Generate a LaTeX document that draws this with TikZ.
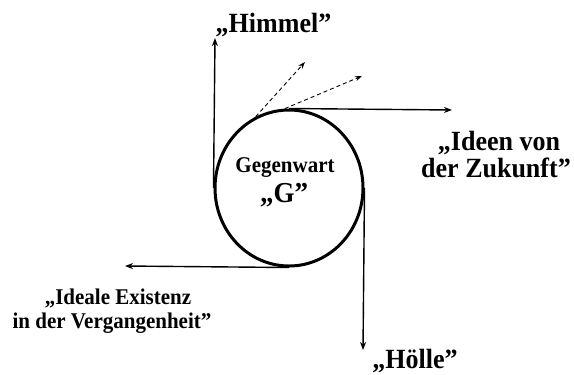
\documentclass[tikz,border=0pt]{standalone}
\usepackage{fontspec}
\setmainfont{Liberation Serif}
\usetikzlibrary{shapes.geometric,arrows.meta}
\newcommand{\vstr}[1]{\scalebox{1}[1.07]{#1}}
\tikzset{
  big/.style={font=\bfseries\fontsize{26bp}{26bp}\selectfont, inner sep=0pt, anchor=base},
  small/.style={font=\bfseries\fontsize{21bp}{21bp}\selectfont, inner sep=0pt, anchor=base},
  arr/.style={line width=1.4bp, -{Stealth[length=8bp,width=6bp]}},
  darr/.style={line width=0.9bp, dashed, dash pattern=on 4bp off 3bp, -{Stealth[length=7bp,width=5bp]}},
}
\begin{document}
\begin{tikzpicture}[x=1bp,y=-1bp]
\useasboundingbox (0,0) rectangle (574,374);
\node[ellipse, draw, line width=3bp, minimum width=148bp, minimum height=156bp, inner sep=0pt] (G) at (289,188) {};
\coordinate (tHimmel) at (215,38);
\coordinate (tIdeen) at (452,110);
\coordinate (tHoelle) at (363,350);
\coordinate (tIdeale) at (125,266);
\coordinate (tD1) at (305,62);
\coordinate (tD2) at (362,76);
\draw[arr] (G.west) -- (tHimmel);
\draw[arr] (G.north) -- (tIdeen);
\draw[arr] (G.east) -- (tHoelle);
\draw[arr] (G.south) -- (tIdeale);
\draw[darr] (G.115) -- (tD1);
\draw[darr] (G.93) -- (tD2);
\node[big] (himmel) at (273.5,32) {\vstr{„Himmel”}};
\node[big] (ideen1) at (499,150) {\vstr{„Ideen von}};
\node[big] (ideen2) at (496,177) {\vstr{der Zukunft”}};
\node[big] (hoelle) at (415,368) {\vstr{„Hölle”}};
\node[small] (gegenwart) at (285,172) {\vstr{Gegenwart}};
\node[font=\bfseries\fontsize{27bp}{27bp}\selectfont, inner sep=0pt, anchor=base] (gq) at (284,202) {\vstr{„G”}};
\node[small] (ideale1) at (118,304) {\vstr{„Ideale Existenz}};
\node[small] (ideale2) at (112,328) {\vstr{in der Vergangenheit”}};
\end{tikzpicture}
\end{document}
